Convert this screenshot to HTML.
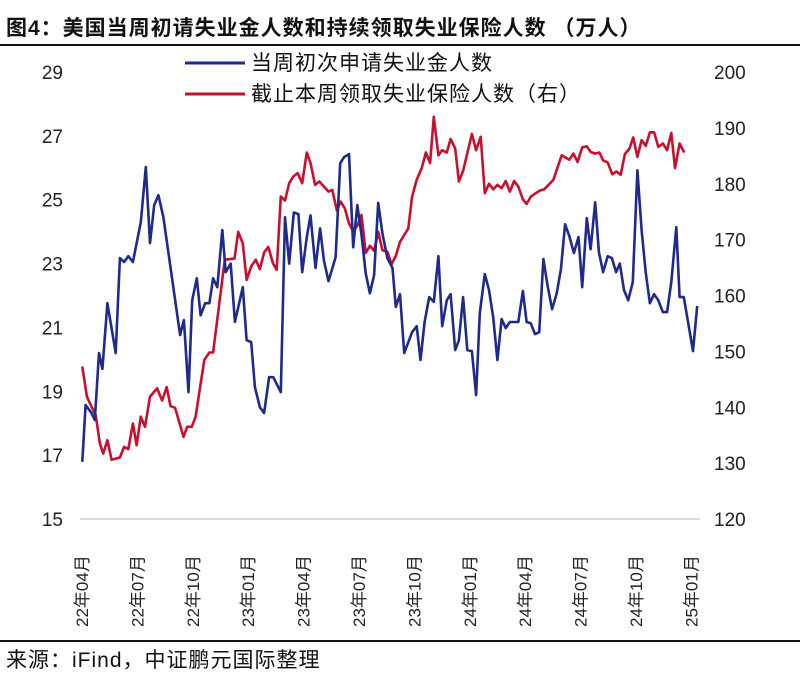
<!DOCTYPE html>
<html><head><meta charset="utf-8">
<style>
body{margin:0;background:#fff;}
svg text{font-family:"Liberation Sans","Noto Sans CJK SC",sans-serif;}
</style></head>
<body>
<svg id="chart" width="800" height="682" viewBox="0 0 800 682" xmlns="http://www.w3.org/2000/svg">
<text x="6" y="35" font-size="21" font-weight="bold" letter-spacing="1" fill="#111">图4：美国当周初请失业金人数和持续领取失业保险人数 （万人）</text>
<line x1="0" y1="45" x2="800" y2="45" stroke="#111" stroke-width="2"/>
<g>
<line x1="185" y1="63" x2="245" y2="63" stroke="#1f2a8a" stroke-width="3"/>
<text x="251" y="70" font-size="21" letter-spacing="1" fill="#111">当周初次申请失业金人数</text>
<line x1="185" y1="94" x2="245" y2="94" stroke="#c8102e" stroke-width="3"/>
<text x="251" y="101" font-size="21" letter-spacing="1" fill="#111">截止本周领取失业保险人数（右）</text>
</g>
<line x1="80" y1="519" x2="700" y2="519" stroke="#d9d9d9" stroke-width="2"/>
<g id="yl"></g>
<g id="yr"></g>
<g id="xl"></g>
<g id="series"></g>
<line x1="0" y1="641" x2="800" y2="641" stroke="#111" stroke-width="2"/>
<text x="6" y="667" font-size="21" letter-spacing="1" fill="#111">来源：iFind，中证鹏元国际整理</text>
</svg>
<script>
const leftTicks=[15,17,19,21,23,25,27,29];
const rightTicks=[120,130,140,150,160,170,180,190,200];
const monthLabels=["22年04月","22年07月","22年10月","23年01月","23年04月","23年07月","23年10月","24年01月","24年04月","24年07月","24年10月","25年01月"];
const blueWeeks=[0,0.8,2.2,3,4,4.8,6,8,9,10,11,12.1,14,15.2,16.2,17.2,18.2,19.4,23.4,24.3,25.4,26.3,27.4,28.3,29.4,30.4,31.3,32.3,33.5,34.3,35.5,36.5,38.4,39.3,40.4,41.3,42.5,43.5,44.7,45.7,47.5,48.5,49.5,50.6,51.7,52.6,53.7,54.6,55.8,56.9,57.8,58.9,60.6,61.7,62.6,63.8,64.8,65.8,66.8,67.8,68.8,69.8,70.8,71.8,73,74.2,75,76,77,78.9,80,80.9,81.9,83,84.1,85.2,86.1,87.2,88.1,89.2,90.1,91.1,92.1,93.2,94.2,95.1,96.3,97.3,98.3,99.3,100.3,101.3,102.3,104.3,105.4,106.3,107.3,108.3,109.3,110.3,111.3,112.4,113.5,114.5,115.5,116.5,117.6,118.7,119.6,120.7,121.6,122.7,123.6,124.6,125.7,126.7,127.7,128.6,129.6,130.6,131.7,132.8,133.8,134.8,135.8,136.8,137.8,138.9,139.9,140.9,142.1,142.9,143.9,146.1,147.1];
const blueValues=[16.79,18.57,18.32,18.1,20.2,19.7,21.76,20.2,23.17,23.05,23.23,23.05,24.3,26.02,23.64,24.83,25.14,24.45,20.76,21.23,18.97,21.85,22.54,21.38,21.76,21.76,22.54,22.26,24.05,22.73,23.0,21.17,22.26,20.6,20.54,19.13,18.5,18.32,19.44,19.44,18.97,24.45,23.0,24.6,24.55,22.73,23.83,24.51,22.86,24.1,23.1,22.45,23.2,26.14,26.33,26.43,23.51,24.83,23.9,22.7,22.07,22.64,24.9,23.95,23.17,22.86,21.64,22.04,20.2,20.85,21.04,19.98,21.17,21.95,21.8,23.23,21.04,21.85,22.04,20.29,20.6,21.95,20.29,20.26,18.88,21.45,22.67,22.17,21.32,19.98,21.26,20.98,21.17,21.17,22.14,21.17,21.13,20.79,20.85,23.14,22.32,21.57,22.07,22.82,24.23,23.86,23.33,23.83,22.26,24.42,23.45,24.92,23.36,22.73,23.23,23.17,22.73,23.0,22.17,21.85,22.42,25.92,24.05,22.7,21.76,22.04,21.85,21.48,21.48,22.42,24.14,21.95,21.95,20.26,21.67];
const redWeeks=[0,1.1,2.2,3.2,4.2,5,6,7,9,10,11,12.1,13,14,15,16.2,17.9,19.1,20.2,21.1,22.2,24.2,25.1,26.2,27.1,28.2,29.2,30.4,31.3,34.1,36.4,37.3,38.4,39.3,40.4,41.5,42.5,43.5,44.5,45.6,46.5,47.5,48.5,49.5,50.5,51.5,52.6,53.7,54.6,55.7,56.7,57.8,58.9,59.8,60.9,61.8,62.8,63.8,64.8,65.8,66.8,67.8,68.8,69.8,70.8,71.8,73,74,75,76,78,78.9,80,81.2,82.2,83.2,84.1,85.2,86.1,87.2,88.1,89.2,90.1,91.1,93.2,94.2,95.3,96.3,97.3,98.3,99.3,100.3,101.3,102.3,103.3,104.3,105.4,106.3,107.3,108.5,109.5,110.5,112.7,113.5,114.7,116.5,117.5,118.5,119.6,120.7,121.6,122.7,123.7,124.6,125.7,126.8,127.8,128.8,129.8,130.9,131.8,132.8,133.8,134.8,135.8,136.8,137.8,138.9,139.9,140.9,141.8,142.9,144,145,146];
const redValues=[147.3,141.9,140.1,138.6,133.5,131.7,134.1,130.6,131.0,132.9,132.5,137.1,133.2,138.3,136.5,141.9,143.4,141.2,143.6,140.2,139.9,134.7,136.5,136.5,138.3,143.7,148.5,149.8,149.8,166.4,166.6,171.4,169.3,162.8,165.2,166.4,164.7,167.7,168.7,165.8,164.6,177.7,177.0,180.1,181.3,181.9,180.1,185.6,183.7,179.8,180.4,179.5,178.6,178.9,175.2,176.8,175.6,172.9,171.5,172.5,174.4,167.6,168.9,168.0,171.4,168.1,167.8,165.6,167.1,169.6,172.0,177.7,180.7,182.8,185.6,183.7,192.0,185.1,186.0,185.6,188.0,186.3,180.4,182.3,188.9,186.0,188.4,178.3,180.0,179.0,179.8,179.2,180.5,178.6,180.5,179.5,177.2,176.4,177.7,178.3,178.8,179.0,180.7,182.5,185.1,184.3,185.4,183.9,186.5,186.7,185.7,185.4,185.6,184.2,183.8,181.7,182.2,181.6,185.3,186.3,188.3,184.8,187.8,186.8,189.2,189.2,186.6,187.2,186.0,189.1,182.8,187.2,185.6];

const NS="http://www.w3.org/2000/svg";
const X0=82.3,WPX=4.18,Y15=519,PXL=(519-72)/14,PXR=(519-72)/80;
function xw(w){return X0+w*WPX;}
function yl(v){return Y15-(v-15)*PXL;}
function yr(v){return Y15-(v-120)*PXR;}
function mk(tag,parent){const e=document.createElementNS(NS,tag);parent.appendChild(e);return e;}
const gl=document.getElementById('yl'),gr=document.getElementById('yr'),gx=document.getElementById('xl'),gs=document.getElementById('series');
leftTicks.forEach(t=>{const e=mk('text',gl);


e.setAttribute('x',63);e.setAttribute('y',yl(t)+7);e.setAttribute('text-anchor','end');e.setAttribute('font-size','19');e.setAttribute('fill','#222');e.textContent=t;});
rightTicks.forEach(t=>{const e=mk('text',gr);


e.setAttribute('x',714);e.setAttribute('y',yr(t)+7);e.setAttribute('font-size','19');e.setAttribute('fill','#222');e.textContent=t;});
monthLabels.forEach((m,i)=>{const e=mk('text',gx);


const x=82+i*55.4+6,y=627;
e.setAttribute('transform','translate('+x+','+y+') rotate(-90)');e.setAttribute('font-size','17');e.setAttribute('fill','#222');e.textContent=m;});
function line(ws,vs,ys,color,name){const p=mk('polyline',gs);


p.setAttribute('points',ws.map((w,i)=>xw(w).toFixed(1)+','+ys(vs[i]).toFixed(1)).join(' '));
p.setAttribute('fill','none');p.setAttribute('stroke',color);p.setAttribute('stroke-width','2.6');p.setAttribute('stroke-linejoin','round');}
line(redWeeks,redValues,yr,'#c8102e','continuing-claims-line');
line(blueWeeks,blueValues,yl,'#1f2a8a','initial-claims-line');
</script>
</body></html>
